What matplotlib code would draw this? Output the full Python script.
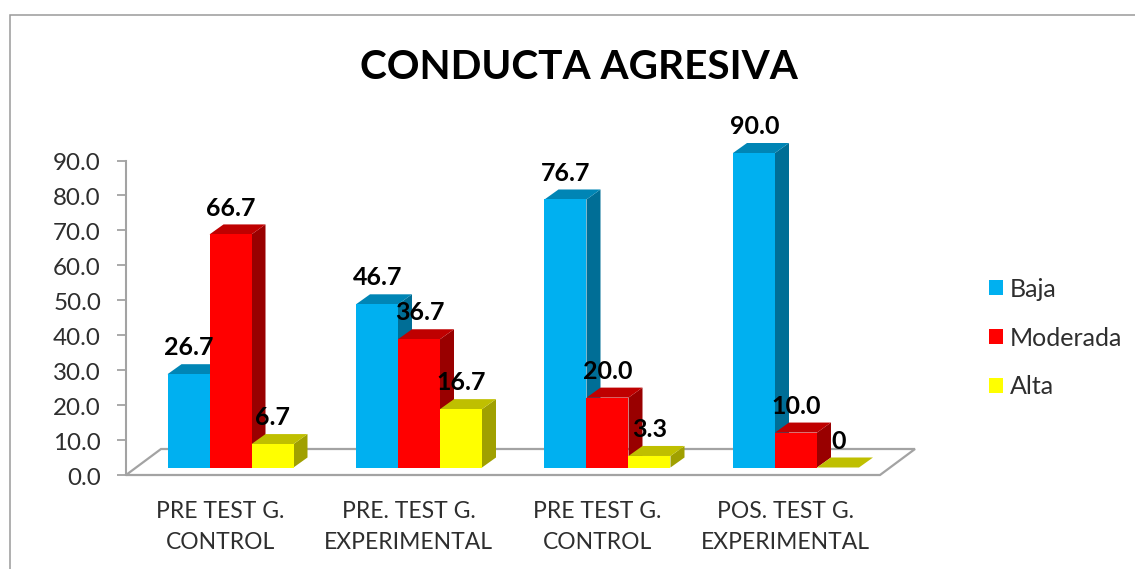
import matplotlib
matplotlib.use("Agg")
import matplotlib.pyplot as plt
from matplotlib.patches import Polygon, Patch
from matplotlib.transforms import ScaledTranslation

categories = ["PRE TEST G.\nCONTROL", "PRE. TEST G.\nEXPERIMENTAL",
              "PRE TEST G.\nCONTROL", "POS. TEST G.\nEXPERIMENTAL"]
baja = [26.7, 46.7, 76.7, 90.0]
moderada = [66.7, 36.7, 20.0, 10.0]
alta = [6.7, 16.7, 3.3, 0]
baja_labels = ["26.7", "46.7", "76.7", "90.0"]
moderada_labels = ["66.7", "36.7", "20.0", "10.0"]
alta_labels = ["6.7", "16.7", "3.3", "0"]
yticks = [0, 10, 20, 30, 40, 50, 60, 70, 80, 90]
title = "CONDUCTA AGRESIVA"

W, H = 1135, 569
plt.rcParams['font.family'] = ['Lato', 'DejaVu Sans']
fig = plt.figure(figsize=(W / 100, H / 100), dpi=100, facecolor='white')

X0, X1 = 126, 880
PX_PER_CAT = (X1 - X0) / len(categories)
PX_PER_VAL = (475 - 160.5) / 90
GREY = '#A3A3A3'
TEXT = '#2E2E2E'


def axes_px(left, right, bottom, top):
    return fig.add_axes([left / W, 1 - bottom / H, (right - left) / W, (bottom - top) / H])


# outer frame
frame = fig.add_axes([0, 0, 1, 1], zorder=0)
frame.set_xlim(0, W)
frame.set_ylim(H, 0)
frame.axis('off')
frame.plot([9.5, 9.5, W], [H, 14.5, 14.5], color='#9A9A9A', lw=1.1, solid_joinstyle='miter')

# value axis and floor
ax = axes_px(X0, X1, 475, 160.5)
ax.set_zorder(1)
ax.patch.set_alpha(0)
ax.set_xlim(0, len(categories))
ax.set_ylim(0, 90)
for s in ['top', 'right', 'bottom']:
    ax.spines[s].set_visible(False)
ax.spines['left'].set_color(GREY)
ax.spines['left'].set_linewidth(1.5)
ax.set_yticks(yticks)
ax.set_yticklabels([f"{v:.1f}" for v in yticks], fontsize=17.4, color=TEXT)
ax.tick_params(axis='y', length=6.5, width=1.3, color=GREY, pad=11.5)
shift = ScaledTranslation(0, -0.8 / 72, fig.dpi_scale_trans)
for lab in ax.get_yticklabels():
    lab.set_transform(lab.get_transform() + shift)
ax.set_xticks([i + 0.5 for i in range(len(categories))])
ax.set_xticklabels(categories, fontsize=16.5, color=TEXT, linespacing=1.55)
ax.tick_params(axis='x', length=0, pad=19)
fdx, fdy = 35 / PX_PER_CAT, 26 / PX_PER_VAL
ax.add_patch(Polygon([(0, 0), (4, 0), (4 + fdx, fdy), (fdx, fdy)], closed=True,
                     facecolor='none', edgecolor=GREY, lw=1.6, clip_on=False, joinstyle='miter'))

# front plane of the bars
bx = axes_px(X0, X1, 467.5, 153)
bx.set_zorder(2)
bx.patch.set_alpha(0)
bx.set_xlim(0, len(categories))
bx.set_ylim(0, 90)
bx.axis('off')

series = [
    (baja, baja_labels, '#00B0F0', '#0085B5', '#006E96', 'Baja'),
    (moderada, moderada_labels, '#FF0000', '#BF0000', '#990000', 'Moderada'),
    (alta, alta_labels, '#FFFF00', '#BFBF00', '#A0A000', 'Alta'),
]
bw = 42 / PX_PER_CAT
ddx, ddy = 14 / PX_PER_CAT, 10 / PX_PER_VAL
z = 3
for g in range(len(categories)):
    gx = g + (230.5 - X0) / PX_PER_CAT
    for k, (vals, labs, front, top, side, _) in enumerate(series):
        v = vals[g]
        x0 = gx + (k - 1.5) * bw
        x1 = x0 + bw
        bx.add_patch(Polygon([(x1, 0), (x1 + ddx, ddy), (x1 + ddx, v + ddy), (x1, v)],
                             closed=True, facecolor=side, lw=0, zorder=z, clip_on=False))
        bx.add_patch(Polygon([(x0, v), (x1, v), (x1 + ddx, v + ddy), (x0 + ddx, v + ddy)],
                             closed=True, facecolor=top, lw=0, zorder=z, clip_on=False))
        bx.bar(x0, v, width=bw, align='edge', color=front, lw=0, zorder=z, clip_on=False)
        bx.annotate(labs[g], (x0 + bw / 2, v), xytext=(0.3, 19), textcoords='offset points',
                    ha='center', va='center', fontsize=18, fontweight='bold',
                    color='black', zorder=100, annotation_clip=False)
        z += 1

fig.text(579 / W, 1 - 67.5 / H, title, ha='center', va='center', fontsize=29.2,
         fontweight='bold', color='black')

handles = [Patch(facecolor=s[2], edgecolor='none', label=s[5]) for s in series]
fig.legend(handles=handles, loc='center left', bbox_to_anchor=(989 / W, 1 - 338 / H), frameon=False,
           fontsize=18, handlelength=0.56, handleheight=0.55, handletextpad=0.28,
           labelspacing=1.03, labelcolor=TEXT, borderpad=0, borderaxespad=0)

fig.savefig('out.png', dpi=100)
